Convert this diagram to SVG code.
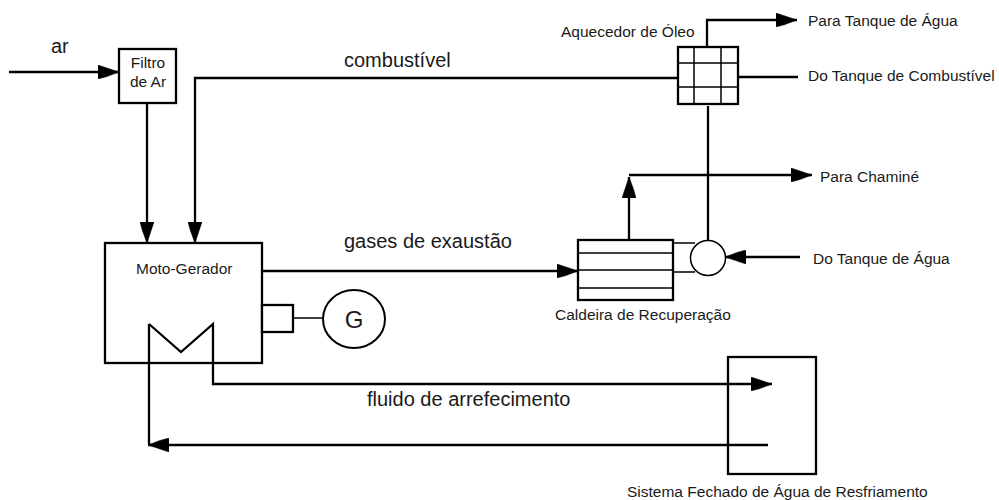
<svg xmlns="http://www.w3.org/2000/svg" width="999" height="500" viewBox="0 0 999 500">
<style>
text{font-family:"Liberation Sans",Arial,sans-serif;fill:#1a1a1a}
.s{font-size:15.500px}
.l{font-size:20px}
.box{fill:#fff;stroke:#000;stroke-width:2.300}
.t{fill:none;stroke:#000;stroke-width:1.500}
.c{fill:none;stroke:#000;stroke-width:2.300}
</style>
<defs>
<marker id="a" markerUnits="userSpaceOnUse" markerWidth="22" markerHeight="14" refX="21" refY="7" orient="auto"><path d="M0 0L9 3L21 7L9 11.500L0 14Z" fill="#000" stroke="#000" stroke-width="0.500"/></marker>
</defs>
<g id="motor"><rect class="box" x="105" y="243" width="157" height="120"/><text class="s" x="136" y="274">Moto-Gerador</text></g>
<g id="filtro"><rect class="box" x="119" y="49" width="57" height="54"/><text class="s" x="148" y="68" text-anchor="middle">Filtro</text><text class="s" x="148" y="87" text-anchor="middle">de Ar</text></g>
<g id="aquecedor"><rect class="box" x="678" y="47" width="60" height="57"/><path class="t" d="M694 47V104M721 47V104M678 63H738M678 87H738"/><text class="s" x="561" y="37">Aquecedor de Óleo</text></g>
<g id="caldeira"><rect class="box" x="578" y="240" width="95" height="60"/><path class="t" d="M578 253H673M578 270H673M578 288H673"/><text class="s" x="555" y="320">Caldeira de Recuperação</text></g>
<g id="bomba"><circle cx="708" cy="258" r="17.500" fill="#fff" stroke="#000" stroke-width="1.500"/></g>
<g id="gerador"><rect class="box" x="262" y="305" width="31" height="27"/><ellipse cx="354" cy="319" rx="31" ry="29" fill="#fff" stroke="#000" stroke-width="2"/><text x="354" y="328" font-size="24" text-anchor="middle">G</text></g>
<g id="resfriamento"><rect class="box" x="728" y="357" width="88" height="117"/><text class="s" x="627" y="497">Sistema Fechado de Água de Resfriamento</text></g>
<g id="connectors">
<path class="c" d="M9 72H119" marker-end="url(#a)"/>
<path class="c" d="M147 103V243" marker-end="url(#a)"/>
<path class="c" d="M678 78H195V243" marker-end="url(#a)"/>
<path class="c" d="M707 47V20H797" marker-end="url(#a)"/>
<path class="c" d="M738 77H798"/>
<path class="c" d="M708 106V241"/>
<path class="c" d="M629 240V177" marker-end="url(#a)"/>
<path class="c" d="M629 175H812" marker-end="url(#a)"/>
<path class="c" d="M263 271H578" marker-end="url(#a)"/>
<path class="c" d="M800 257H725" marker-end="url(#a)"/>
<path class="t" d="M673 243H695M673 272H695"/>
<path class="t" d="M293 318H323"/>
<path class="c" d="M149 324L181 352L213 324V384H772" marker-end="url(#a)"/>
<path class="c" d="M149 324V445"/>
<path class="c" d="M768 445H148" marker-end="url(#a)"/>
</g>
<g id="labels">
<text class="l" x="51" y="53">ar</text>
<text class="l" x="344" y="67">combustível</text>
<text class="l" x="344" y="248">gases de exaustão</text>
<text class="l" x="367" y="406">fluido de arrefecimento</text>
<text class="s" x="808" y="26">Para Tanque de Água</text>
<text class="s" x="808" y="81">Do Tanque de Combustível</text>
<text class="s" x="820" y="182">Para Chaminé</text>
<text class="s" x="813" y="264">Do Tanque de Água</text>
</g>
</svg>
